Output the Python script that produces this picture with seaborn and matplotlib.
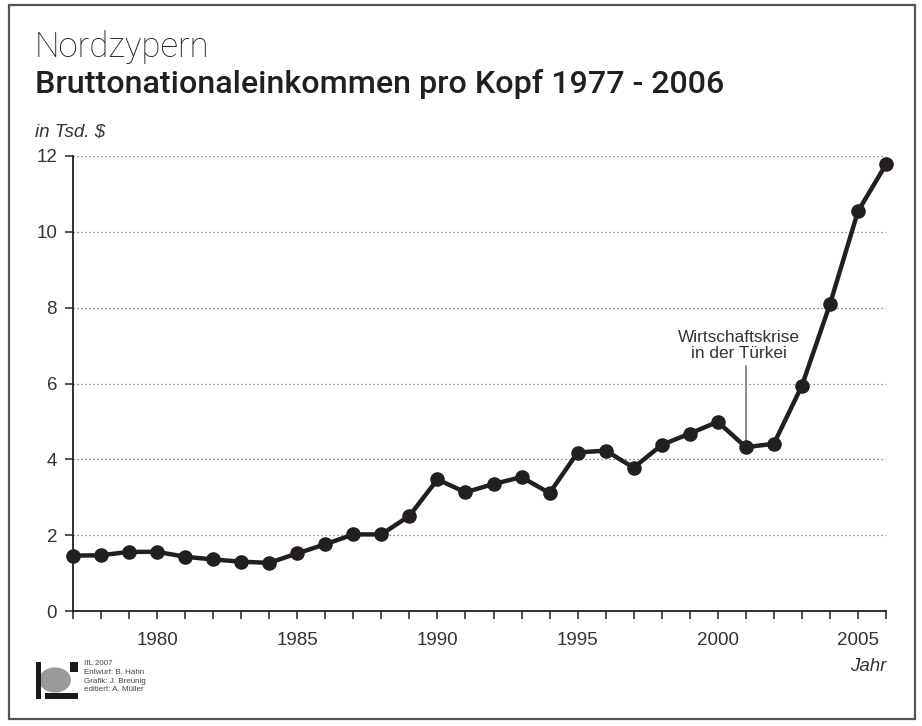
import numpy as np
import pandas as pd
import matplotlib.pyplot as plt
import seaborn as sns
from matplotlib.patches import Rectangle, Circle

# Bruttonationaleinkommen pro Kopf, Nordzypern (in Tsd. $)
years = list(range(1977, 2007))
gni = [1.46, 1.47, 1.56, 1.56, 1.43, 1.36, 1.30, 1.27, 1.52, 1.76,
       2.02, 2.02, 2.51, 3.47, 3.13, 3.35, 3.53, 3.11, 4.18, 4.23,
       3.78, 4.38, 4.68, 4.99, 4.32, 4.41, 5.94, 8.09, 10.54, 11.78]

y_ticks = [0, 2, 4, 6, 8, 10, 12]
x_label_years = [1980, 1985, 1990, 1995, 2000, 2005]

crisis_year = 2001
crisis_text = "Wirtschaftskrise\nin der Türkei"
credits = ["IfL 2007", "Entwurf: B. Hahn", "Grafik: J. Breunig", "editiert: A. Müller"]

df = pd.DataFrame({"Jahr": years, "BNE": gni})

sns.set_style("ticks")
plt.rcParams["font.family"] = ["Liberation Sans", "DejaVu Sans"]

INK = "#231f20"
TXT = "#333333"
W, H = 922, 726

fig = plt.figure(figsize=(W / 100, H / 100), dpi=100)
ax = fig.add_axes([73 / W, 1 - 611 / H, (886 - 73) / W, (611 - 156) / H])

sns.lineplot(data=df, x="Jahr", y="BNE", ax=ax, color=INK, lw=3.2,
             marker="o", markersize=10.5, markeredgewidth=0, clip_on=False,
             zorder=5)

ax.set_xlim(1977, 2006)
ax.set_ylim(0, 12)
ax.set_yticks(y_ticks)
ax.set_xticks(years)
ax.set_xticklabels([str(y) if y in x_label_years else "" for y in years])
ax.set_xlabel("")
ax.set_ylabel("")

for v in y_ticks[1:]:
    ax.axhline(v, color="#666666", lw=0.9, ls=(0, (1, 2.2)), zorder=1)

for side in ["top", "right"]:
    ax.spines[side].set_visible(False)
for side in ["left", "bottom"]:
    ax.spines[side].set_color(INK)
    ax.spines[side].set_linewidth(1.3)

ax.tick_params(axis="both", direction="out", length=6, width=1.1, color=INK,
               labelsize=13.5, labelcolor=TXT, bottom=True, left=True)
ax.tick_params(axis="y", pad=5.5)
ax.tick_params(axis="x", pad=9)

# annotation for the 2001 crisis
crisis_val = gni[years.index(crisis_year)]
ax.plot([crisis_year, crisis_year], [crisis_val, 6.45], color="#777777",
        lw=1.2, zorder=3)
ax.text(crisis_year - 0.25, 6.6, crisis_text, ha="center", va="bottom",
        fontsize=12.4, color=TXT, linespacing=1.1)

# titles
fig.text(35 / W, 1 - 57 / H, "Nordzypern", fontsize=25, color=INK,
         family=["Roboto", "DejaVu Sans"], fontweight="light", va="baseline")
fig.text(35 / W, 1 - 93 / H, "Bruttonationaleinkommen pro Kopf 1977 - 2006",
         fontsize=23.2, color=INK, family=["Roboto", "DejaVu Sans"],
         fontweight="medium", va="baseline")
fig.text(35 / W, 1 - 136 / H, "in Tsd. $", fontsize=13.5, color=TXT,
         style="italic", va="baseline")
fig.text(886 / W, 1 - 671 / H, "Jahr", fontsize=13.5, color=TXT,
         style="italic", ha="right", va="baseline")

# outer frame
def px(x0, y0, w, h):
    return (x0 / W, 1 - (y0 + h) / H), w / W, h / H

xy, w, h = px(9, 5, 906, 714)
fig.patches.append(Rectangle(xy, w, h, transform=fig.transFigure, fill=False,
                             edgecolor="#555555", lw=1.6))

# IfL logo
cx, cy = 55 / W, 1 - 680 / H
fig.patches.append(Circle((cx, cy), 16 / W, transform=fig.transFigure,
                          facecolor="#9a9a9a", edgecolor="none"))
for x0, y0, w0, h0 in [(36, 662, 5, 37), (70, 662, 8, 10), (45, 693, 33, 6)]:
    xy, w, h = px(x0, y0, w0, h0)
    fig.patches.append(Rectangle(xy, w, h, transform=fig.transFigure,
                                 facecolor="#1a1a1a", edgecolor="none"))

for i, line in enumerate(credits):
    fig.text(84 / W, 1 - (665 + i * 8.8) / H, line, fontsize=5.8,
             color="#444444", va="baseline")

fig.savefig("out.png", dpi=100, facecolor="white")
